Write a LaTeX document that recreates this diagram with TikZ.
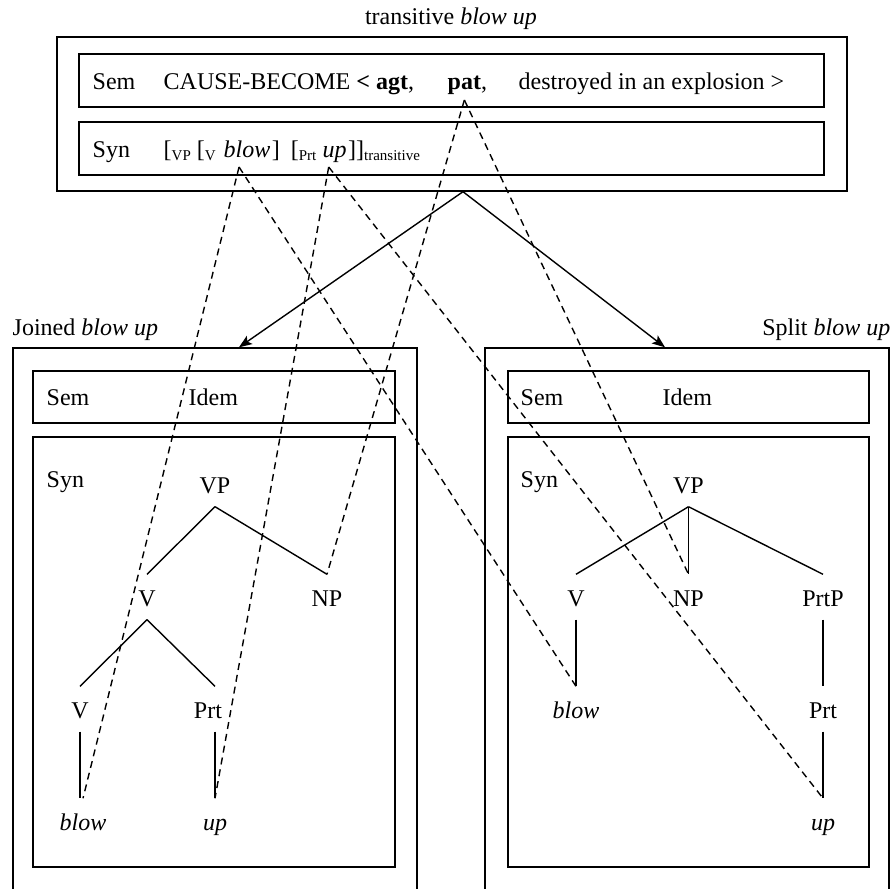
\documentclass[tikz,border=0pt]{standalone}
\usepackage{fontspec}
\setmainfont{Liberation Serif}
\usetikzlibrary{arrows.meta}
\newcommand{\sbs}[1]{\raisebox{-3pt}{\fontsize{15}{15}\selectfont #1}}
\begin{document}
\begin{tikzpicture}[x=1pt,y=-1pt,line width=1.4pt,
  every node/.style={font=\fontsize{24}{28}\selectfont},
  word/.style={anchor=base west,inner sep=0pt},
  cat/.style={anchor=base,inner xsep=1pt,inner ysep=7pt,text height=24pt,text depth=6pt},
  box/.style={draw,inner sep=0pt},
  link/.style={dash pattern=on 7pt off 5pt},
  arr/.style={-{Stealth[length=13pt,width=10pt,inset=3pt]}}]
\useasboundingbox (0,0) rectangle (893,888);
\clip (0,0) rectangle (893,888);

\node[anchor=base,inner sep=0pt] (title) at (451,25) {transitive \textit{blow up}};
\node[box,minimum width=790pt,minimum height=154pt] (trans) at (452,114) {};
\node[box,minimum width=745pt,minimum height=53pt] (tsembox) at (451.5,80.5) {};
\node[box,minimum width=745pt,minimum height=53pt] (tsynbox) at (451.5,148.5) {};
\node[word] (tsem) at (92,90) {Sem};
\node[word] (cause) at (163,90) {CAUSE-BECOME \textbf{< agt},};
\node[word] (pat) at (447,90) {\textbf{pat}\rlap{,}};
\node[word] (expl) at (518,90) {destroyed in an explosion >};
\node[word] (tsyn) at (92,157) {Syn};
\node[word] (synA) at (163,157) {[\sbs{VP} [\sbs{V}};
\node[word] (tblow) at (223,157) {\textit{blow}};
\node[word] (synB) at (tblow.base east) {]\hspace{11pt}[\sbs{Prt}};
\node[word] (tup) at (322,157) {\textit{up}};
\node[word] (synC) at (tup.base east) {]]\sbs{transitive}};
\coordinate (blowfoot) at ([shift={(-8pt,-10pt)}]tblow.base);
\coordinate (upfoot) at ([shift={(-6pt,-10pt)}]tup.base);
\coordinate (patfoot) at ([yshift=-10pt]pat.base);

\node[anchor=base west,inner sep=0pt] (jlabel) at (12,335) {Joined \textit{blow up}};
\node[box,minimum width=404pt,minimum height=552pt] (jouter) at (215,624) {};
\node[box,minimum width=362pt,minimum height=52pt] (jsembox) at (214,397) {};
\node[box,minimum width=362pt,minimum height=430pt] (jsynbox) at (214,652) {};
\node[word] (jsem) at (46,405) {Sem};
\node[word] (jidem) at (188,405) {Idem};
\node[word] (jsyn) at (46,487) {Syn};
\node[cat] (jvp) at (215,493) {VP};
\node[cat] (jv) at (147,606) {V};
\node[cat] (jnp) at (327,606) {NP};
\node[cat] (jvl) at (80,718) {V};
\node[cat] (jprt) at (208,718) {Prt};
\node[cat] (jblow) at (83,830) {\textit{blow}};
\node[cat] (jup) at (215,830) {\textit{up}};

\node[anchor=base east,inner sep=0pt] (slabel) at (891,335) {Split \textit{blow up}};
\node[box,minimum width=404pt,minimum height=552pt] (souter) at (687,624) {};
\node[box,minimum width=361pt,minimum height=52pt] (ssembox) at (688.5,397) {};
\node[box,minimum width=361pt,minimum height=430pt] (ssynbox) at (688.5,652) {};
\node[word] (ssem) at (520,405) {Sem};
\node[word] (sidem) at (662,405) {Idem};
\node[word] (ssyn) at (520,487) {Syn};
\node[cat] (svp) at (688.5,493) {VP};
\node[cat] (sv) at (576,606) {V};
\node[cat] (snp) at (688.5,606) {NP};
\node[cat] (sprtp) at (823,606) {PrtP};
\node[cat] (sblow) at (576,718) {\textit{blow}};
\node[cat] (sprt) at (823,718) {Prt};
\node[cat] (sup) at (823,830) {\textit{up}};

\draw[arr] ([xshift=11pt]trans.south) -- ([xshift=24pt]jouter.north);
\draw[arr] ([xshift=11pt]trans.south) -- ([xshift=-22pt]souter.north);

\foreach \a/\b in {jvp/jv,jvp/jnp,jv/jvl,svp/sv,svp/snp,svp/sprtp,sv/sblow,sprtp/sprt,sprt/sup}
  \draw (\a.south) -- (\b.north);
\draw (jv.south) -- (jprt.north -| jup);
\draw (jvl.south) -- (jvl.south |- jblow.north);
\draw (jprt.south -| jup) -- (jup.north);

\foreach \a/\b in {blowfoot/jblow,blowfoot/sblow,upfoot/jup,upfoot/sup,patfoot/jnp,patfoot/snp}
  \draw[link] (\a) -- (\b.north);
\end{tikzpicture}
\end{document}
